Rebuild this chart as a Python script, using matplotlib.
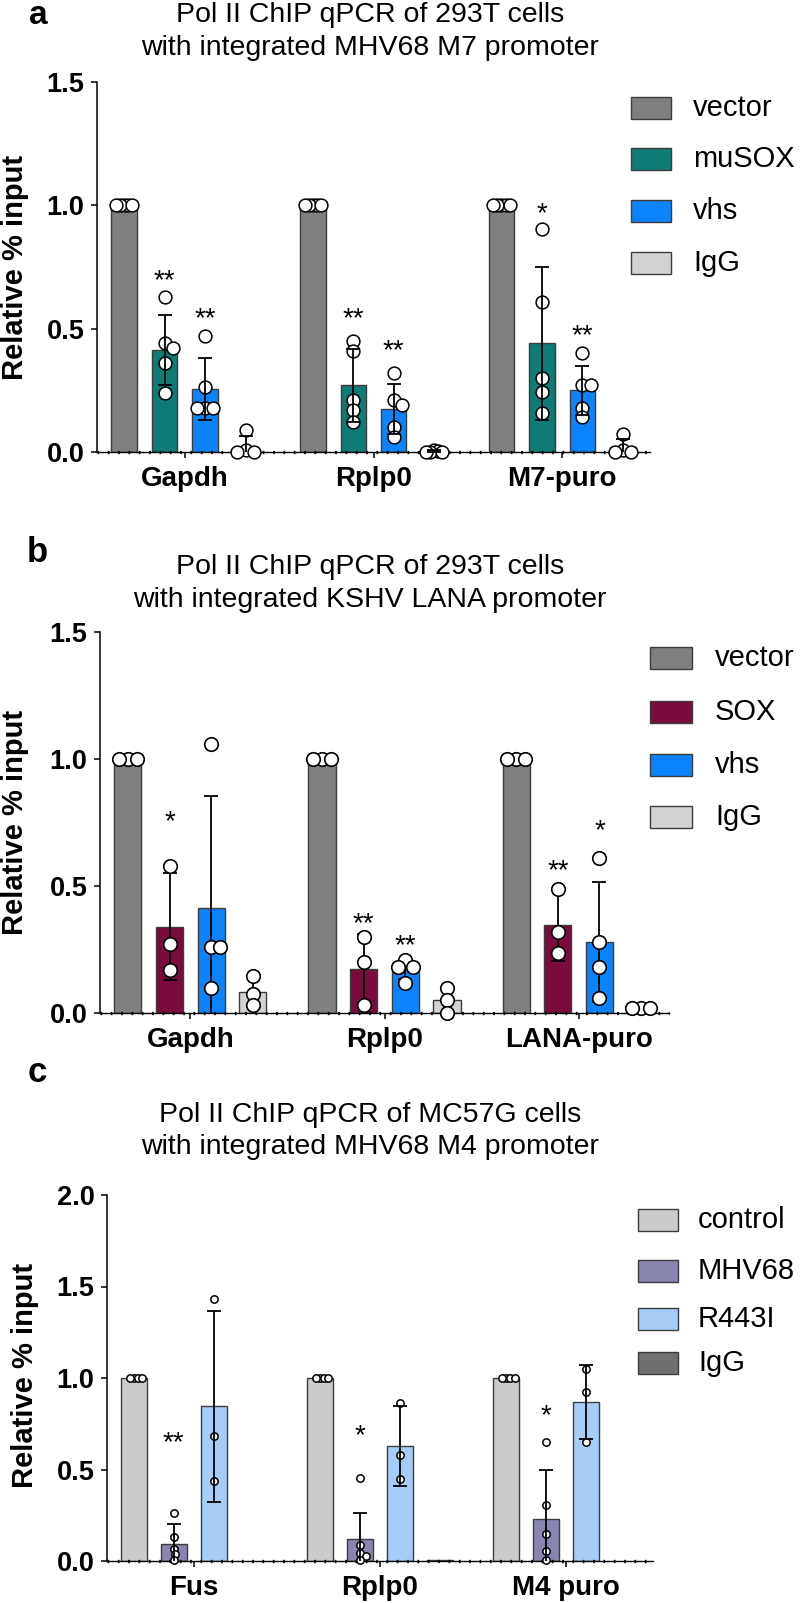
import numpy as np
import matplotlib
matplotlib.use('Agg')
import matplotlib.pyplot as plt
from matplotlib.patches import Rectangle
from matplotlib.ticker import FormatStrFormatter

plt.rcParams['font.family'] = ['Liberation Sans', 'DejaVu Sans']

# ---------------- data: panel a ----------------
a_genes = ['Gapdh', 'Rplp0', 'M7-puro']
a_series = ['vector', 'muSOX', 'vhs', 'IgG']
a_colors = ['#808080', '#0e7b74', '#0c83fa', '#d3d3d3']
a_vector_pts = [[1, 1, 1, 1, 1], [1, 1, 1, 1, 1], [1, 1, 1, 1, 1]]
a_musox_pts = [[0.63, 0.44, 0.42, 0.36, 0.24], [0.45, 0.41, 0.21, 0.17, 0.12], [0.905, 0.61, 0.30, 0.245, 0.16]]
a_vhs_pts = [[0.47, 0.265, 0.18, 0.18, 0.18], [0.32, 0.21, 0.19, 0.10, 0.06], [0.40, 0.27, 0.27, 0.18, 0.14]]
a_igg_pts = [[0.09, 0.01, 0.0, 0.0], [0.01, 0.005, 0.0, 0.0, 0.0], [0.075, 0.01, 0.0, 0.0]]
a_vector_mean = [1.0, 1.0, 1.0]
a_musox_mean = [0.415, 0.27, 0.44]
a_vhs_mean = [0.255, 0.175, 0.25]
a_igg_mean = [0.022, 0.003, 0.02]
a_vector_sd = [0.0, 0.0, 0.0]
a_musox_sd = [0.142, 0.148, 0.31]
a_vhs_sd = [0.126, 0.102, 0.10]
a_igg_sd = [0.044, 0.004, 0.034]
a_star_gene = [0, 0, 1, 1, 2, 2]
a_star_series = [1, 2, 1, 2, 1, 2]
a_star_y = [0.73, 0.575, 0.575, 0.445, 1.0, 0.505]
a_star_text = ['**', '**', '**', '**', '*', '**']

# ---------------- data: panel b ----------------
b_genes = ['Gapdh', 'Rplp0', 'LANA-puro']
b_series = ['vector', 'SOX', 'vhs', 'IgG']
b_colors = ['#808080', '#7b0a3d', '#0c83fa', '#d3d3d3']
b_vector_pts = [[1, 1, 1], [1, 1, 1], [1, 1, 1]]
b_sox_pts = [[0.58, 0.27, 0.17], [0.30, 0.20, 0.03], [0.49, 0.32, 0.235]]
b_vhs_pts = [[1.06, 0.26, 0.26, 0.10], [0.21, 0.18, 0.18, 0.12], [0.61, 0.28, 0.18, 0.06]]
b_igg_pts = [[0.145, 0.075, 0.03], [0.10, 0.05, 0.0], [0.02, 0.02, 0.02]]
b_vector_mean = [1.0, 1.0, 1.0]
b_sox_mean = [0.34, 0.175, 0.345]
b_vhs_mean = [0.415, 0.17, 0.28]
b_igg_mean = [0.083, 0.05, 0.02]
b_vector_sd = [0.0, 0.0, 0.0]
b_sox_sd = [0.21, 0.136, 0.14]
b_vhs_sd = [0.44, 0.037, 0.237]
b_igg_sd = [0.058, 0.05, 0.004]
b_star_gene = [0, 1, 1, 2, 2]
b_star_series = [1, 1, 2, 1, 2]
b_star_y = [0.787, 0.385, 0.30, 0.595, 0.75]
b_star_text = ['*', '**', '**', '**', '*']

# ---------------- data: panel c ----------------
c_genes = ['Fus', 'Rplp0', 'M4 puro']
c_series = ['control', 'MHV68', 'R443I', 'IgG']
c_colors = ['#cbcbcb', '#8886b0', '#a6cdf8', '#707070']
c_control_pts = [[1, 1, 1, 1], [1, 1, 1, 1], [1, 1, 1, 1]]
c_mhv68_pts = [[0.26, 0.13, 0.066, 0.036, 0.004], [0.454, 0.089, 0.046, 0.027, 0.004],
               [0.65, 0.304, 0.149, 0.053, 0.004]]
c_r443i_pts = [[1.43, 0.683, 0.435], [0.865, 0.577, 0.45], [1.05, 0.923, 0.65]]
c_igg_pts = [[], [], []]
c_control_mean = [1.0, 1.0, 1.0]
c_mhv68_mean = [0.095, 0.122, 0.228]
c_r443i_mean = [0.845, 0.627, 0.869]
c_igg_mean = [np.nan, 0.005, np.nan]
c_control_sd = [0.0, 0.0, 0.0]
c_mhv68_sd = [0.105, 0.14, 0.267]
c_r443i_sd = [0.52, 0.218, 0.203]
c_igg_sd = [0.0, 0.0, 0.0]
c_star_gene = [0, 1, 2]
c_star_series = [1, 1, 1]
c_star_y = [0.69, 0.73, 0.84]
c_star_text = ['**', '*', '*']

# ---------------- layout helpers ----------------
W, H = 800, 1603
fig = plt.figure(figsize=(W / 100, H / 100), dpi=100)

GSTEP = 4.66
XLIM = (-0.67, 12.99)
EDGE = '#3c3c3c'


def fx(px):
    return px / W


def fy(py):
    return 1 - py / H


def swarm(ax, xc, ys, d_px, max_off_px):
    ys = np.asarray(ys, dtype=float)
    if len(ys) == 0:
        return np.array([])
    disp = ax.transData.transform(np.column_stack([np.full(len(ys), xc), ys]))
    step = d_px * 0.75
    cands = [0.0]
    for i in range(1, 40):
        cands += [i * step / 4, -i * step / 4]
    placed = []
    offs = []
    for px, py in disp:
        chosen = cands[-1]
        for c in cands:
            if all((c - ox) ** 2 + (py - oy) ** 2 >= step ** 2 - 1e-6 for ox, oy in placed):
                chosen = c
                break
        placed.append((chosen, py))
        offs.append(chosen)
    offs = np.array(offs)
    m = np.abs(offs).max()
    if m > max_off_px:
        offs = offs * max_off_px / m
    back = ax.transData.inverted().transform(np.column_stack([disp[:, 0] + offs, disp[:, 1]]))
    return back[:, 0]


def panel(rect_px, genes, colors, pts, means, sds, stars, ylim, yticks,
          bar_w, msize, mlw, err_top):
    l, r, t, b = rect_px
    ax = fig.add_axes([fx(l), fy(b), fx(r - l), (b - t) / H])
    ax.set_xlim(*XLIM)
    ax.set_ylim(*ylim)
    ngene = len(genes)
    d_px = np.sqrt(msize) * 100 / 72
    bar_px = bar_w * (r - l) / (XLIM[1] - XLIM[0])
    for j in range(len(colors)):
        xs = np.arange(ngene) * GSTEP + j
        ax.bar(xs, means[j], width=bar_w, color=colors[j], edgecolor=EDGE,
               linewidth=1.0, zorder=2)
        sd = np.asarray(sds[j], dtype=float)
        mask = sd > 0
        if mask.any():
            ax.errorbar(xs[mask], np.asarray(means[j])[mask], yerr=sd[mask], fmt='none',
                        ecolor='black', elinewidth=1.3, capsize=4.8, capthick=1.3,
                        zorder=6 if err_top else 3)
        for g in range(ngene):
            yv = pts[j][g]
            if len(yv) == 0:
                continue
            xv = swarm(ax, xs[g], yv, d_px, bar_px * 0.32)
            ax.scatter(xv, yv, s=msize, facecolor='white', edgecolor='black',
                       linewidth=mlw, zorder=4, clip_on=False)
    sg, ss, sy, st = stars
    for g, j, y, txt in zip(sg, ss, sy, st):
        ax.annotate(txt, xy=(g * GSTEP + j, y), xytext=(0, -11.5), textcoords='offset points',
                    ha='center', va='baseline', fontsize=20, zorder=7)
    # axes styling
    for s in ['top', 'right']:
        ax.spines[s].set_visible(False)
    ax.spines['left'].set_linewidth(1.1)
    ax.spines['bottom'].set_linewidth(1.0)
    ax.plot([XLIM[0], XLIM[1]], [0, 0], color='black', lw=2.4, ls=(0, (0.5, 2.6)),
            zorder=2.5, clip_on=False, solid_capstyle='butt')
    ax.set_yticks(yticks)
    ax.yaxis.set_major_formatter(FormatStrFormatter('%.1f'))
    ax.set_xticks(np.arange(ngene) * GSTEP + 1.5)
    ax.set_xticklabels(genes)
    ax.tick_params(axis='y', length=4, width=1.1, pad=5, labelsize=19.5)
    ax.tick_params(axis='x', length=4, width=1.1, pad=6, labelsize=20)
    for lab in ax.get_yticklabels() + ax.get_xticklabels():
        lab.set_fontweight('bold')
    ax.patch.set_alpha(0)
    return ax


def legend(names, colors, x0, x1, ys, h, tx):
    for n, c, y in zip(names, colors, ys):
        fig.patches.append(Rectangle((fx(x0), fy(y + h / 2)), fx(x1 - x0), h / H,
                                     transform=fig.transFigure, facecolor=c,
                                     edgecolor=EDGE, linewidth=1.0))
        fig.text(fx(tx), fy(y), n, ha='left', va='center', fontsize=21)


def titles(lines, ys):
    for ln, y in zip(lines, ys):
        fig.text(fx(370), fy(y), ln, ha='center', va='center', fontsize=20.5)


# ---------------- panel a ----------------
panel((97, 650, 82, 452), a_genes, a_colors,
      [a_vector_pts, a_musox_pts, a_vhs_pts, a_igg_pts],
      [a_vector_mean, a_musox_mean, a_vhs_mean, a_igg_mean],
      [a_vector_sd, a_musox_sd, a_vhs_sd, a_igg_sd],
      (a_star_gene, a_star_series, a_star_y, a_star_text),
      (0, 1.5), [0, 0.5, 1.0, 1.5], 0.63, 85, 1.1, True)
titles(['Pol II ChIP qPCR of 293T cells', 'with integrated MHV68 M7 promoter'], [15, 48])
legend(a_series, a_colors, 631, 671, [108, 159, 211, 263], 22, 693)
fig.text(fx(15), fy(267), 'Relative % input', rotation=90, ha='center', va='center',
         fontsize=21, fontweight='bold')
fig.text(fx(38), fy(0.5), 'a', ha='center', va='top', fontsize=24, fontweight='bold')

# ---------------- panel b ----------------
panel((100, 669, 632, 1013), b_genes, b_colors,
      [b_vector_pts, b_sox_pts, b_vhs_pts, b_igg_pts],
      [b_vector_mean, b_sox_mean, b_vhs_mean, b_igg_mean],
      [b_vector_sd, b_sox_sd, b_vhs_sd, b_igg_sd],
      (b_star_gene, b_star_series, b_star_y, b_star_text),
      (0, 1.5), [0, 0.5, 1.0, 1.5], 0.65, 95, 1.2, False)
titles(['Pol II ChIP qPCR of 293T cells', 'with integrated KSHV LANA promoter'], [567, 600])
legend(b_series, b_colors, 650, 692, [658, 712, 765, 817], 22, 715)
fig.text(fx(15), fy(822), 'Relative % input', rotation=90, ha='center', va='center',
         fontsize=21, fontweight='bold')
fig.text(fx(37), fy(553), 'b', ha='center', va='center', fontsize=25, fontweight='bold')

# ---------------- panel c ----------------
panel((107, 653, 1195, 1561), c_genes, c_colors,
      [c_control_pts, c_mhv68_pts, c_r443i_pts, c_igg_pts],
      [c_control_mean, c_mhv68_mean, c_r443i_mean, c_igg_mean],
      [c_control_sd, c_mhv68_sd, c_r443i_sd, c_igg_sd],
      (c_star_gene, c_star_series, c_star_y, c_star_text),
      (0, 2.0), [0, 0.5, 1.0, 1.5, 2.0], 0.65, 28, 1.1, True)
titles(['Pol II ChIP qPCR of MC57G cells', 'with integrated MHV68 M4 promoter'], [1115, 1147])
legend(c_series, c_colors, 638, 678, [1220, 1271, 1319, 1363], 22, 698)
fig.text(fx(25), fy(1375), 'Relative % input', rotation=90, ha='center', va='center',
         fontsize=21, fontweight='bold')
fig.text(fx(37), fy(1073), 'c', ha='center', va='center', fontsize=25, fontweight='bold')

fig.savefig('out.png', dpi=100)
